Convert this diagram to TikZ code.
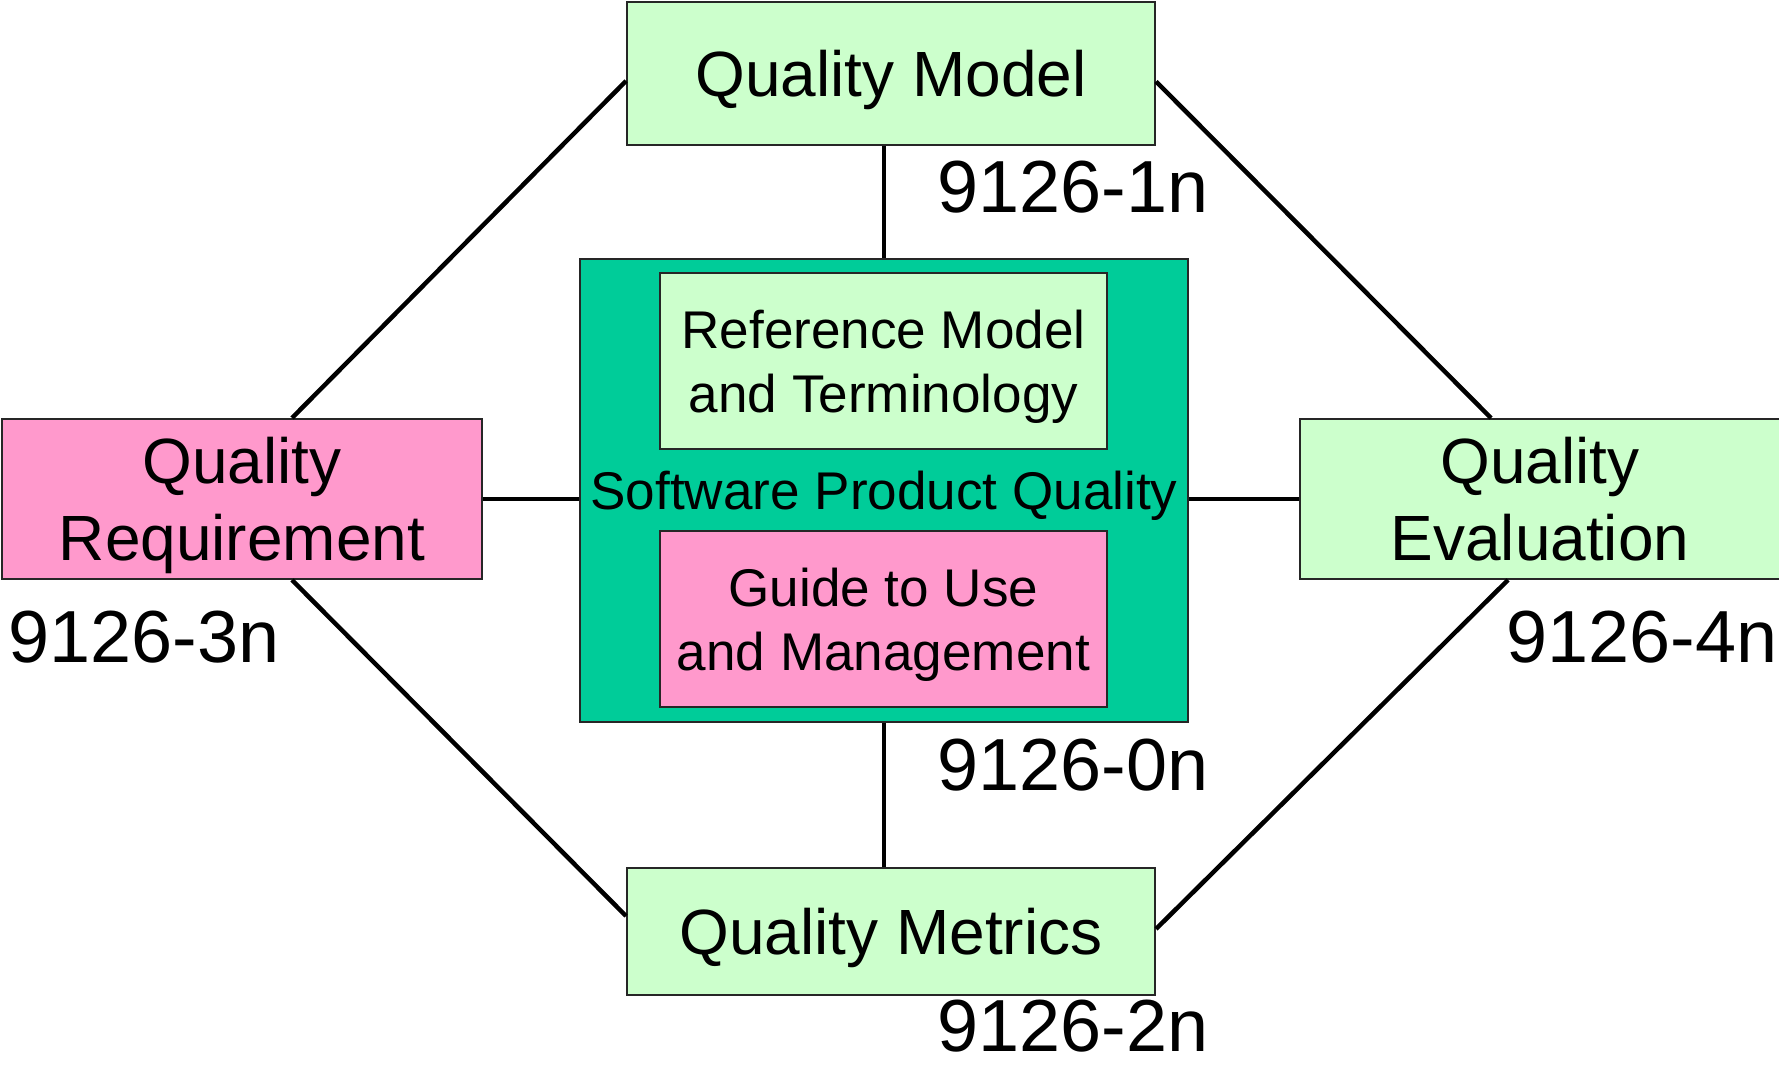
\documentclass[tikz,border=0pt]{standalone}
\usepackage{fontspec}
\setmainfont{Liberation Sans}
\usetikzlibrary{positioning,calc}
\definecolor{vertpale}{HTML}{CCFFCC}
\definecolor{rose}{HTML}{FF99CC}
\definecolor{turquoise}{HTML}{00CC99}
\tikzstyle{bloc}=[draw=black!85, line width=0.2mm, fill=vertpale, align=center,
inner sep=0pt, text depth=0pt, font=\fontsize{18.2}{21.9}\selectfont]
\tikzstyle{grand} = [bloc, minimum width=52.8mm, minimum height=14.3mm]
\tikzstyle{cote} = [bloc, minimum width=48mm, minimum height=16mm]
\tikzstyle{interne} = [bloc, minimum width=44.7mm, minimum height=17.6mm,
font=\fontsize{15.1}{18.2}\selectfont]
\tikzstyle{coeur} = [bloc, fill=turquoise, minimum width=60.8mm,
minimum height=46.3mm, font=\fontsize{15.1}{18.2}\selectfont]
\tikzstyle{line} = [draw, line width=0.45mm, color=black]
\tikzstyle{num} = [inner sep=0pt, anchor=base west, font=\fontsize{21}{25}\selectfont]
\newcommand{\boite}[3]{node (p#1)[#2]{#3}}
\newcommand{\num}[2]{node (n#1)[num]{#2}}

\begin{document}
\begin{tikzpicture}[x=0.1mm,y=-0.1mm]
		\useasboundingbox (0,0) rectangle (1779,1065);
		
		% Draw diagram elements
		\path (884,490.5) \boite{0}{coeur}{Software Product Quality};
		\path (p0.north)+(-0.5,103.5) \boite{5}{interne}{Reference Model\\and Terminology};
		\path (p0.south)+(-0.5,-103.5) \boite{6}{interne, fill=rose}{Guide to Use\\and Management};
		
		\path (p0.north)+(7,-184.5) \boite{1}{grand}{Quality Model};
		\path (p0.south)+(7,208.5) \boite{4}{grand, minimum height=12.7mm}{Quality Metrics};
		\path (p0.west)+(-337,8.5) \boite{2}{cote, fill=rose}{Quality\\Requirement};
		\path (p0.east)+(351,8.5) \boite{3}{cote}{Quality\\Evaluation};
		
		% part numbers
		\path (p1.south)+(46,67) \num{1}{9126-1n};
		\path (p0.south)+(53,68) \num{0}{9126-0n};
		\path (p4.south)+(46,56) \num{4}{9126-2n};
		\path (p2.south west)+(7,83) \num{2}{9126-3n};
		\path (p3.south west)+(207,83) \num{3}{9126-4n};
		
		% Draw lines between elements
		\path [line] ([yshift=-0.75mm]p1.west) -- ([xshift=5mm]p2.north);
		\path [line] ([yshift=-0.8mm]p1.east) -- ([xshift=-4.9mm]p3.north);
		\path [line] ([xshift=5mm]p2.south) -- ([yshift=1.55mm]p4.west);
		\path [line] ([xshift=-3.2mm]p3.south) -- ([yshift=0.25mm]p4.east);
		
		\path [line] (p1.south -| p0.north) -- (p0.north);
		\path [line] (p0.south) -- (p0.south |- p4.north);
		\path [line] (p2.east) -- (p2.east -| p0.west);
		\path [line] (p0.east |- p3.west) -- (p3.west);
		\end{tikzpicture}
\end{document}
